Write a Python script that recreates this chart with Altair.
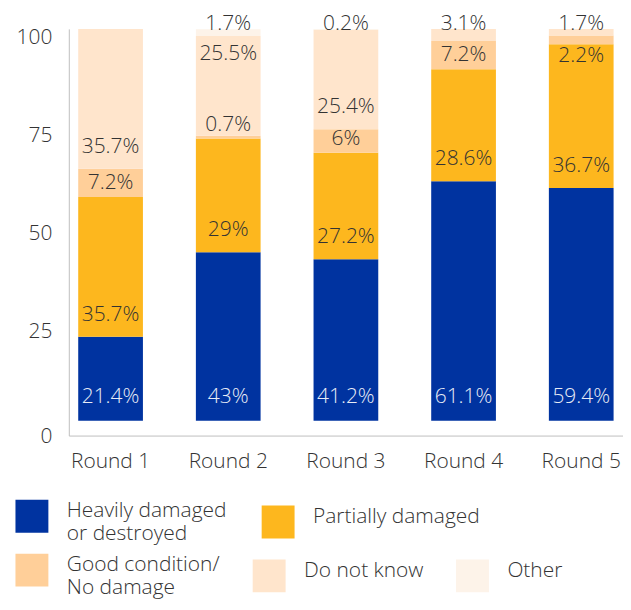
import altair as alt
import pandas as pd

rounds = ["Round 1", "Round 2", "Round 3", "Round 4", "Round 5"]
series = ["Heavily damaged or destroyed", "Partially damaged",
          "Good condition/No damage", "Do not know", "Other"]
heavily = [21.4, 43, 41.2, 61.1, 59.4]
partially = [35.7, 29, 27.2, 28.6, 36.7]
good = [7.2, 0.7, 6, 7.2, 2.2]
dont_know = [35.7, 25.5, 25.4, 3.1, 1.7]
other = [0, 1.7, 0.2, 0, 0]
colors = ["#0033A0", "#FDB71E", "#FFCF99", "#FFE5CC", "#FDF3E9"]
y_ticks = [0, 25, 50, 75, 100]

FONT = "Open Sans"
TXT = "#333333"
FS = 21

values = [heavily, partially, good, dont_know, other]
rows = []
for i, r in enumerate(rounds):
    base = 0.0
    nonzero = [k for k, vals in enumerate(values) if vals[i] > 0]
    top_k = nonzero[-1]
    for k, (s, vals) in enumerate(zip(series, values)):
        v = vals[i]
        y0, y1 = base, base + v
        base = y1
        if v == 0:
            mode, anchor = None, None
        elif k == 0:
            mode, anchor = "blue", y0
        elif k == top_k and v < 4:
            mode, anchor = "above", y1
        elif (r, s) == ("Round 2", "Do not know"):
            mode, anchor = "top", y1
        elif (r, s) == ("Round 5", "Good condition/No damage"):
            mode, anchor = "below", y0
        elif k == 2:
            mode, anchor = "small", y0
        else:
            mode, anchor = "base", y0
        rows.append(dict(round=r, series=s, value=v, y0=y0, y1=y1, k=k,
                         mode=mode, anchor=anchor, label=f"{v:g}%"))
df = pd.DataFrame(rows)

label_expr = ("datum.label == 'Heavily damaged or destroyed' ? ['Heavily damaged', 'or destroyed'] : "
              "datum.label == 'Good condition/No damage' ? ['Good condition/', 'No damage'] : datum.label")
SYMBOL = "M-1,-0.7H1V1.3H-1Z"


def make_legend(y, pad):
    return alt.Legend(
        title=None, orient="none", legendX=-54, legendY=y,
        direction="horizontal", symbolType=SYMBOL,
        symbolSize=1090, symbolStrokeWidth=0,
        labelFontSize=FS, labelFont=FONT, labelFontWeight=300,
        labelColor=TXT, labelOffset=18, columnPadding=pad,
        labelLimit=400, labelExpr=label_expr)


x_enc = alt.X("round:N", sort=rounds,
              scale=alt.Scale(paddingInner=0.45, paddingOuter=0.08),
              axis=alt.Axis(title=None, ticks=False, labelAngle=0,
                            domainColor="#BFBFBF", domainWidth=1,
                            labelFontSize=FS, labelFont=FONT, labelFontWeight=300,
                            labelColor=TXT, labelPadding=15))
y_scale = alt.Scale(domain=[-3.8, 100], nice=False, zero=False)
y_enc = alt.Y("y0:Q", scale=y_scale,
              axis=alt.Axis(title=None, values=y_ticks, grid=False, ticks=False,
                            domainColor="#BFBFBF", domainWidth=1,
                            labelFontSize=FS, labelFont=FONT, labelFontWeight=300,
                            labelColor=TXT, labelPadding=17,
                            labelOffset={"condition": {"test": "datum.value == 0", "value": 16},
                                         "value": 9}))

bars_a = alt.Chart(df).transform_filter(alt.datum.k < 2).mark_bar().encode(
    x=x_enc, y=y_enc, y2="y1:Q",
    color=alt.Color("series:N",
                    scale=alt.Scale(domain=series[:2], range=colors[:2]),
                    legend=make_legend(467, 34)),
)
bars_b = alt.Chart(df).transform_filter(alt.datum.k >= 2).mark_bar().encode(
    x=x_enc, y=y_enc, y2="y1:Q",
    fill=alt.Fill("series:N",
                  scale=alt.Scale(domain=series[2:], range=colors[2:]),
                  legend=make_legend(521, 32)),
)

dys = {"blue": -24, "base": -22, "small": -14, "top": 18, "below": 12, "above": -5}
layers = [bars_a, bars_b]
for mode, dy in dys.items():
    layers.append(
        alt.Chart(df).transform_filter(alt.datum.mode == mode).mark_text(
            font=FONT, fontSize=FS, fontWeight=300, dy=dy, baseline="middle",
            color=("#E8ECF6" if mode == "blue" else TXT)
        ).encode(x=alt.X("round:N", sort=rounds), y=alt.Y("anchor:Q", scale=y_scale),
                 text="label:N")
    )

chart = alt.layer(*layers).resolve_scale(color="independent", fill="independent").properties(
    width=556, height=408,
    padding={"left": 7, "top": 3, "right": 0, "bottom": 0},
).configure_view(stroke=None)

chart.save("out.html", embed_options={"renderer": "svg", "actions": False})
